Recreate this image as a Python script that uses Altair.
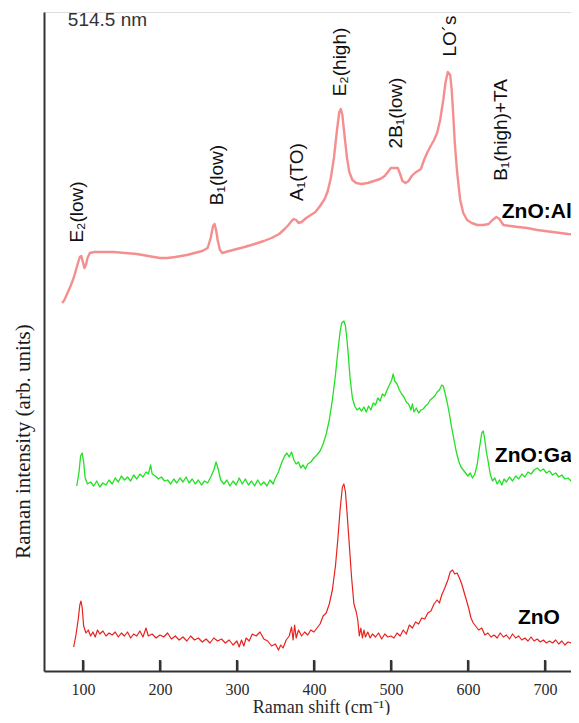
import altair as alt
import pandas as pd

# ---------------- data (Raman shift in cm^-1, intensity in arb. units) ----------------
zno_x = [88, 91, 94, 96, 97.5, 99, 101, 104, 107, 110, 113, 116, 119, 122, 126, 130, 134, 138, 142, 146,
         150, 154, 158, 162, 166, 170, 174, 178, 182, 185, 190, 195, 200, 205, 210, 215, 220, 225, 230, 235,
         240, 245, 250, 255, 260, 265, 270, 275, 280, 285, 290, 295, 300, 303, 306, 309, 312, 316, 320, 325,
         330, 335, 340, 345, 350, 354, 357, 360, 364, 368, 371, 373, 375, 377, 380, 384, 388, 392, 396, 400,
         404, 408, 412, 416, 420, 424, 428, 431, 434, 437, 439, 441, 443, 446, 449, 452, 455, 457, 459, 461,
         463, 465, 467, 470, 473, 476, 480, 484, 488, 492, 496, 500, 504, 508, 512, 516, 520, 524, 528, 532,
         536, 540, 544, 548, 552, 556, 560, 563, 566, 570, 574, 577, 580, 583, 586, 589, 592, 595, 598, 601,
         604, 607, 610, 614, 618, 622, 626, 630, 634, 638, 642, 646, 650, 654, 658, 662, 666, 670, 674, 678,
         682, 686, 690, 694, 698, 702, 706, 710, 714, 718, 722, 726, 730, 734, 738, 742]
zno_y = [24, 36, 52, 66, 70, 64, 45, 38, 41, 35, 39, 34, 41, 37, 40, 35, 38, 36, 39, 34,
         38, 35, 39, 33, 37, 35, 40, 34, 43, 35, 37, 33, 36, 34, 38, 32, 35, 31, 34, 30,
         35, 31, 33, 29, 32, 28, 33, 30, 32, 28, 31, 26, 30, 24, 31, 25, 33, 30, 37, 35,
         39, 32, 30, 25, 27, 21, 26, 23, 31, 35, 44, 31, 46, 33, 41, 35, 39, 36, 41, 39,
         43, 47, 55, 58, 67, 81, 105, 131, 161, 184, 187, 179, 159, 126, 93, 67, 59, 51, 35, 43,
         33, 41, 34, 39, 33, 37, 34, 38, 32, 37, 34, 35, 33, 38, 35, 41, 37, 46, 43, 49,
         47, 53, 52, 58, 60, 67, 71, 68, 76, 83, 91, 99, 101, 97, 98, 93, 87, 79, 71, 63,
         53, 48, 45, 41, 43, 36, 38, 34, 36, 33, 38, 34, 36, 32, 37, 33, 35, 31, 33, 30,
         34, 30, 32, 29, 31, 28, 30, 28, 31, 27, 30, 26, 29, 28, 25, 26]

ga_x = [92, 95, 97, 99, 101, 103, 106, 110, 114, 118, 122, 126, 130, 134, 138, 142, 146, 150, 154, 158,
        162, 166, 170, 174, 178, 182, 185, 188, 190, 194, 198, 202, 206, 210, 214, 218, 222, 226, 230, 234,
        238, 242, 246, 250, 254, 258, 262, 266, 270, 273, 276, 279, 283, 287, 291, 295, 299, 303, 307, 311,
        315, 319, 323, 327, 331, 335, 339, 343, 347, 350, 354, 358, 362, 365, 368, 371, 374, 377, 380, 383,
        386, 389, 392, 396, 400, 404, 408, 412, 416, 420, 424, 428, 431, 434, 436, 439, 441, 443, 445, 447,
        450, 453, 456, 459, 462, 465, 468, 471, 474, 477, 480, 483, 486, 489, 492, 495, 498, 501, 503, 505,
        508, 511, 514, 517, 520, 523, 526, 528, 530, 533, 536, 539, 542, 545, 548, 551, 554, 557, 560, 563,
        566, 568, 570, 573, 576, 579, 582, 585, 588, 591, 594, 597, 600, 603, 606, 609, 612, 615, 618, 620,
        622, 624, 626, 629, 632, 635, 638, 641, 644, 647, 650, 654, 658, 662, 666, 670, 674, 678, 682, 686,
        690, 694, 698, 702, 706, 710, 714, 718, 722, 726, 730, 734, 738, 742]
ga_y = [185, 199, 215, 218, 209, 193, 187, 189, 185, 190, 184, 188, 186, 191, 187, 193, 189, 195, 191, 194,
        190, 196, 192, 197, 194, 199, 197, 206, 197, 195, 192, 194, 190, 191, 187, 192, 188, 193, 189, 194,
        188, 192, 187, 191, 186, 190, 188, 194, 201, 209, 201, 191, 187, 191, 185, 190, 186, 193, 187, 192,
        186, 190, 185, 191, 186, 189, 185, 191, 187, 193, 199, 208, 215, 218, 214, 219, 211, 207, 209, 203,
        206, 202, 207, 209, 213, 216, 220, 227, 237, 251, 271, 296, 319, 339, 348, 350, 345, 331, 313, 293,
        273, 265, 261, 263, 260, 264, 259, 265, 261, 268, 266, 273, 270, 277, 275, 281, 286, 291, 297, 290,
        287, 281, 277, 274, 269, 267, 261, 267, 259, 263, 258, 261, 262, 265, 267, 271, 273, 275, 279, 281,
        286, 285, 279, 269, 257, 243, 231, 219, 210, 204, 201, 198, 195, 198, 193, 197, 206, 223, 238, 240,
        231, 219, 211, 197, 190, 193, 187, 191, 186, 192, 189, 194, 190, 195, 192, 197, 194, 199, 197, 201,
        203, 200, 202, 198, 200, 196, 198, 194, 196, 192, 193, 190, 192, 188]

al_x = [73, 76, 80, 84, 88, 91, 94, 96, 98, 100, 102, 104, 106, 109, 115, 125, 140, 155, 170, 185,
        200, 210, 220, 235, 245, 255, 262, 266, 269, 271, 273, 275, 278, 281, 290, 300, 310, 323, 335, 345,
        355, 362, 367, 371, 374, 377, 380, 384, 390, 396, 402, 408, 414, 418, 422, 426, 430, 433, 435, 437,
        440, 443, 446, 450, 455, 462, 470, 478, 486, 492, 497, 500, 505, 509, 512, 515, 519, 523, 527, 531,
        535, 539, 543, 547, 551, 556, 560, 564, 568, 571, 574, 577, 579, 581, 583, 586, 590, 594, 599, 605,
        612, 620, 627, 632, 637, 641, 646, 655, 665, 677, 690, 700, 710, 720, 730, 743]
al_y = [368, 371, 378, 385, 393, 401, 409, 414, 415, 409, 403, 406, 413, 418, 419, 419, 419, 418, 417, 415,
        413, 413, 414, 416, 418, 420, 423, 433, 445, 447, 441, 431, 421, 418, 420, 422, 424, 427, 430, 433,
        437, 442, 446, 450, 452, 451, 448, 449, 453, 456, 459, 465, 472, 480, 493, 513, 541, 559, 562, 556,
        534, 513, 499, 491, 488, 487, 488, 490, 492, 495, 500, 503, 503, 503, 497, 490, 488, 490, 495, 498,
        500, 502, 511, 518, 524, 531, 538, 551, 571, 589, 599, 596, 581, 556, 528, 499, 471, 458, 451, 448,
        446, 446, 447, 451, 454, 452, 446, 445, 444, 443, 441, 440, 439, 438, 437, 436]

tick_values = [100, 200, 300, 400, 500, 600, 700]
tick_length = 11  # inward tick length, in intensity units of the y scale

mode_text = ["E\u2082(low)", "B\u2081(low)", "A\u2081(TO)", "E\u2082(high)", "2B\u2081(low)", "LO\u00b4s", "B\u2081(high)+TA"]
mode_x = [92, 274, 378, 434, 506, 577, 643]
mode_y = [459, 496, 499, 609, 558, 635, 541]

sample_text = ["ZnO:Al", "ZnO:Ga", "ZnO"]
sample_x = [644, 635, 665]
sample_y = [459, 215, 53]

laser_text = ["514.5 nm"]
laser_x = [80.5]
laser_y = [651]

# ---------------- chart ----------------
W, H = 527, 659
xscale = alt.Scale(domain=[49.5, 733.9], nice=False, zero=False)
yscale = alt.Scale(domain=[0, 659], nice=False, zero=False)

xaxis = alt.Axis(values=tick_values, ticks=True, tickSize={"expr": "-11"}, tickWidth=2, tickColor="#333333",
                 grid=False, domainColor="#333333", domainWidth=2,
                 labelFont="Liberation Serif", labelFontSize=16, labelColor="#2a2a2a", labelPadding=21,
                 labelFlush=False,
                 title="Raman shift (cm\u207b\u00b9)", titleFont="Liberation Serif", titleFontSize=18,
                 titleFontWeight="normal", titleColor="#2a2a2a", titleX=277, titleY=36,
                 titleAlign="center", titleBaseline="middle")
yaxis = alt.Axis(ticks=False, labels=False, grid=False, domainColor="#333333", domainWidth=2,
                 title="Raman intensity (arb. units)", titleFont="Liberation Serif", titleFontSize=21,
                 titleFontWeight="normal", titleColor="#1a1a1a", titleAngle=270, titleX=-21, titleY=429,
                 titleAlign="center", titleBaseline="middle")


def spectrum(xs, ys, color, width, opacity=1.0):
    df = pd.DataFrame({"shift": xs, "intensity": ys})
    return alt.Chart(df).mark_line(color=color, strokeWidth=width, opacity=opacity,
                                   strokeJoin="round", clip=True).encode(
        x=alt.X("shift:Q", scale=xscale, axis=xaxis),
        y=alt.Y("intensity:Q", scale=yscale, axis=yaxis),
    )


# tick marks drawn as short two-point line segments, one per tick value
tick_rows = []
for t in tick_values:
    tick_rows.append({"shift": t, "intensity": 0, "tick": str(t)})
    tick_rows.append({"shift": t, "intensity": tick_length, "tick": str(t)})
tick_lines = alt.Chart(pd.DataFrame(tick_rows)).mark_line(
    color="#333333", strokeWidth=2).encode(
    x=alt.X("shift:Q", scale=xscale, axis=xaxis),
    y=alt.Y("intensity:Q", scale=yscale, axis=yaxis),
    detail="tick:N",
)

al = spectrum(al_x, al_y, "#f26a6a", 2.4, 0.75)
ga = spectrum(ga_x, ga_y, "#22e022", 1.3)
zno = spectrum(zno_x, zno_y, "#e8221e", 1.2)

modes = alt.Chart(pd.DataFrame({"t": mode_text, "x": mode_x, "y": mode_y})).mark_text(
    angle=270, align="center", baseline="middle", font="Liberation Sans", fontSize=19, color="#111111"
).encode(
    x=alt.X("x:Q", scale=xscale, axis=xaxis),
    y=alt.Y("y:Q", scale=yscale, axis=yaxis),
    text="t:N",
)

samples = alt.Chart(pd.DataFrame({"t": sample_text, "x": sample_x, "y": sample_y})).mark_text(
    align="left", baseline="middle", font="Liberation Sans", fontSize=21, fontWeight="bold", color="#000000"
).encode(
    x=alt.X("x:Q", scale=xscale, axis=xaxis),
    y=alt.Y("y:Q", scale=yscale, axis=yaxis),
    text="t:N",
)

laser = alt.Chart(pd.DataFrame({"t": laser_text, "x": laser_x, "y": laser_y})).mark_text(
    align="left", baseline="middle", font="Liberation Sans", fontSize=19, color="#333333"
).encode(
    x=alt.X("x:Q", scale=xscale, axis=xaxis),
    y=alt.Y("y:Q", scale=yscale, axis=yaxis),
    text="t:N",
)

chart = alt.layer(al, ga, zno, tick_lines, modes, samples, laser).properties(
    width=W, height=H,
    padding={"left": 36, "top": 4, "right": 0, "bottom": 44},
    autosize=alt.AutoSizeParams(type="none"),
).configure_view(stroke=None).configure(background="white")

chart.save("out.html", embed_options={"renderer": "svg", "actions": False})
